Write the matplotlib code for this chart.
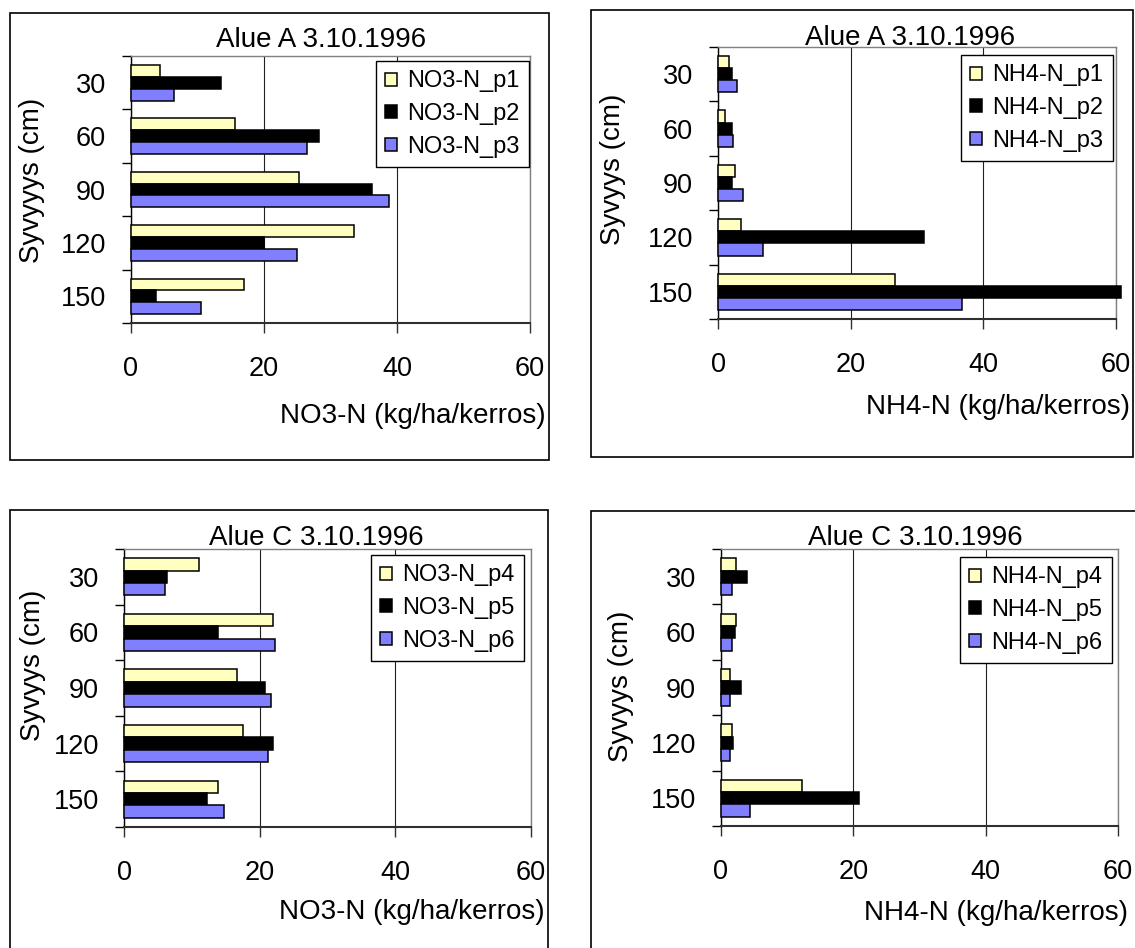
import matplotlib
matplotlib.use("Agg")
import matplotlib.pyplot as plt
from matplotlib.patches import Rectangle
import numpy as np

plt.rcParams['font.family'] = ['Liberation Sans', 'DejaVu Sans']

W, H = 1135, 948

depths = ["30", "60", "90", "120", "150"]

# Alue A, NO3-N
no3_p1 = [4.4, 15.6, 25.2, 33.5, 17.0]
no3_p2 = [13.6, 28.3, 36.2, 20.0, 3.8]
no3_p3 = [6.4, 26.4, 38.8, 25.0, 10.5]
# Alue A, NH4-N
nh4_p1 = [1.7, 1.1, 2.6, 3.5, 26.7]
nh4_p2 = [2.1, 2.1, 2.1, 31.0, 60.7]
nh4_p3 = [2.9, 2.3, 3.8, 6.8, 36.8]
# Alue C, NO3-N
no3_p4 = [11.0, 21.9, 16.7, 17.6, 13.9]
no3_p5 = [6.4, 13.9, 20.8, 22.0, 12.2]
no3_p6 = [6.1, 22.2, 21.7, 21.3, 14.7]
# Alue C, NH4-N
nh4_p4 = [2.3, 2.3, 1.4, 1.7, 12.3]
nh4_p5 = [3.9, 2.1, 3.0, 1.8, 20.9]
nh4_p6 = [1.7, 1.7, 1.4, 1.4, 4.4]

colors = ["#FFFFC0", "#000000", "#7F7FFF"]

fig = plt.figure(figsize=(W / 100, H / 100), dpi=100)


def frame(x0, y0, x1, y1):
    fig.patches.append(Rectangle((x0 / W, 1 - y1 / H), (x1 - x0) / W, (y1 - y0) / H,
                                 transform=fig.transFigure, fill=False,
                                 edgecolor="black", linewidth=1.2, zorder=0))


def panel(box, plot, series, names, title, title_xy, ylabel, ylabel_xy, xlabel,
          xlabel_xy, leg_xy):
    frame(*box)
    x0, y0, x1, y1 = plot
    ax = fig.add_axes([x0 / W, 1 - y1 / H, (x1 - x0) / W, (y1 - y0) / H])
    n = len(depths)
    h = 1 / 4.5
    centers = np.arange(n) + 0.5
    handles = []
    for k, (vals, c, nm) in enumerate(zip(series, colors, names)):
        bars = ax.barh(centers + (k - 1) * h, vals, height=h, color=c,
                       edgecolor="black", linewidth=1.1, label=nm, zorder=3,
                       clip_on=False)
        handles.append(bars)
    ax.set_xlim(0, 60)
    ax.set_ylim(n, 0)
    ax.set_xticks([0, 20, 40, 60])
    ax.set_xticklabels(["0", "20", "40", "60"])
    ax.xaxis.grid(True, color="#202020", linewidth=0.8, zorder=1)
    ax.set_axisbelow(True)
    ax.set_yticks(np.arange(n + 1))
    ax.set_yticklabels([])
    ax.set_yticks(centers, minor=True)
    ax.set_yticklabels(depths, minor=True)
    ax.tick_params(axis="y", which="major", direction="out", length=6.5,
                   width=1.0, color="black")
    ax.tick_params(axis="y", which="minor", length=0, pad=18, labelsize=19.5)
    ax.tick_params(axis="x", which="major", direction="out", length=7.2,
                   width=1.0, pad=16.5, labelsize=19.5, color="#303030")
    for s in ["top", "right"]:
        ax.spines[s].set_color("#808080")
        ax.spines[s].set_linewidth(1.0)
    ax.spines["left"].set_color("black")
    ax.spines["left"].set_linewidth(1.0)
    ax.spines["bottom"].set_color("#303030")
    ax.spines["bottom"].set_linewidth(1.5)
    fig.text(title_xy[0] / W, 1 - title_xy[1] / H, title, ha="center",
             va="baseline", fontsize=20)
    fig.text(ylabel_xy[0] / W, 1 - ylabel_xy[1] / H, ylabel, ha="center",
             va="center", rotation=90, fontsize=20)
    fig.text(xlabel_xy[0] / W, 1 - xlabel_xy[1] / H, xlabel, ha="right",
             va="center", fontsize=20)
    leg = ax.legend(handles=handles, loc="upper left",
                    bbox_to_anchor=(leg_xy[0] / W, 1 - leg_xy[1] / H),
                    bbox_transform=fig.transFigure, borderaxespad=0,
                    fontsize=17, frameon=True, fancybox=False, shadow=False,
                    handlelength=0.47, handleheight=0.47, handletextpad=0.45,
                    labelspacing=0.45, borderpad=0.4)
    leg.get_frame().set_edgecolor("black")
    leg.get_frame().set_linewidth(1.0)
    leg.get_frame().set_alpha(1)
    leg.set_zorder(10)
    return ax


panel((10, 12.5, 549, 460), (131, 56, 530, 323), [no3_p1, no3_p2, no3_p3],
      ["NO3-N_p1", "NO3-N_p2", "NO3-N_p3"], "Alue A 3.10.1996", (321, 47),
      "Syvyyys (cm)", (32, 180), "NO3-N (kg/ha/kerros)", (546, 416), (376, 61))

panel((591, 10, 1133, 457), (718, 47, 1116, 319), [nh4_p1, nh4_p2, nh4_p3],
      ["NH4-N_p1", "NH4-N_p2", "NH4-N_p3"], "Alue A 3.10.1996", (910, 45),
      "Syvyys (cm)", (613, 169), "NH4-N (kg/ha/kerros)", (1130, 407), (961, 55))

panel((10, 510, 548, 965), (124, 549, 531, 827), [no3_p4, no3_p5, no3_p6],
      ["NO3-N_p4", "NO3-N_p5", "NO3-N_p6"], "Alue C 3.10.1996", (316, 545),
      "Syvyys (cm)", (33, 665), "NO3-N (kg/ha/kerros)", (545, 912), (371, 555))

panel((591, 511, 1145, 965), (721, 549, 1118, 826), [nh4_p4, nh4_p5, nh4_p6],
      ["NH4-N_p4", "NH4-N_p5", "NH4-N_p6"], "Alue C 3.10.1996", (915, 545),
      "Syvyys (cm)", (621, 686), "NH4-N (kg/ha/kerros)", (1128, 913), (960, 557))

fig.savefig("out.png", dpi=100, facecolor="white")
